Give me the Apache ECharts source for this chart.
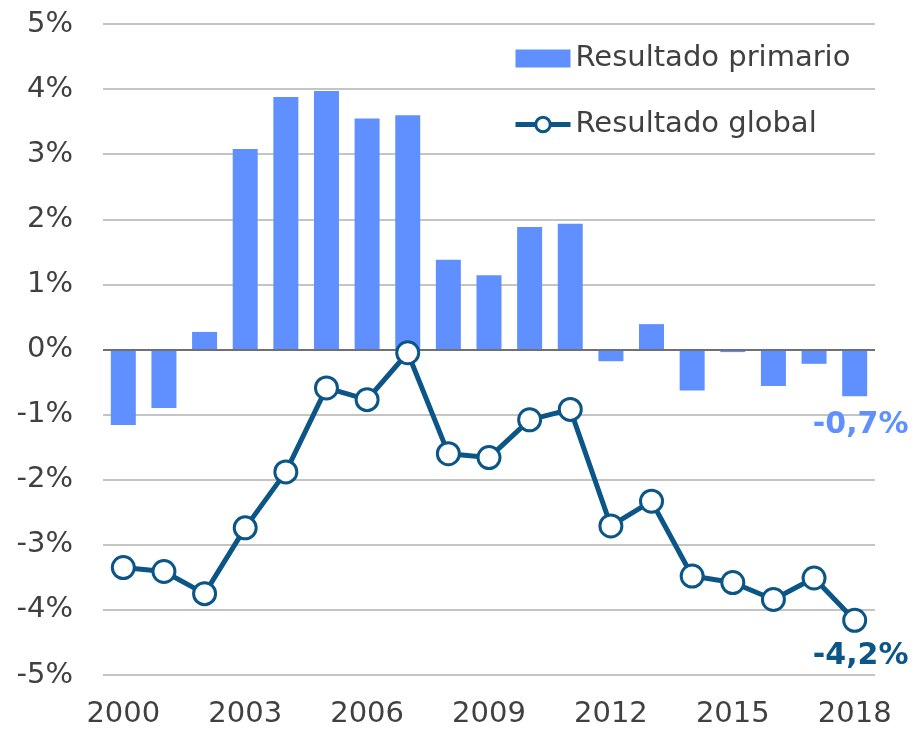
<!DOCTYPE html>
<html>
<head>
<meta charset="utf-8">
<script src="https://cdn.jsdelivr.net/npm/echarts@6/dist/echarts.min.js"></script>
<style>
  html, body { margin: 0; padding: 0; background: #fff; }
  #chart { width: 916px; height: 729px; }
</style>
</head>
<body>
<div id="chart"></div>
<script>
const years = ['2000', '2001', '2002', '2003', '2004', '2005', '2006', '2007', '2008', '2009',
  '2010', '2011', '2012', '2013', '2014', '2015', '2016', '2017', '2018']
const primario = [-1.16, -0.9, 0.27, 3.08, 3.88, 3.97, 3.55, 3.6, 1.38, 1.14,
  1.88, 1.93, -0.18, 0.39, -0.63, -0.04, -0.56, -0.22, -0.72]
const global = [-3.35, -3.41, -3.75, -2.74, -1.88, -0.59, -0.77, -0.05, -1.6, -1.66,
  -1.08, -0.92, -2.71, -2.33, -3.48, -3.58, -3.84, -3.51, -4.16]
const lastPrimarioLabel = '-0,7%'
const lastGlobalLabel = '-4,2%'

const barColor = '#6090FF'
const lineColor = '#0B5686'
const font = 'DejaVu Sans'

const last = years.length - 1

let chart = echarts.init(document.getElementById('chart'))
chart.setOption({
  animation: false,
  textStyle: { fontFamily: font },
  grid: { left: 103, right: 41, top: 24, bottom: 52 },
  legend: {
    orient: 'vertical',
    left: 508,
    top: 39,
    itemWidth: 55,
    itemHeight: 18,
    itemGap: 37,
    textStyle: { fontSize: 29, color: '#404040', fontFamily: font },
    data: [
      { name: 'Resultado primario', icon: 'rect' },
      {
        name: 'Resultado global',
        lineStyle: { width: 5, color: lineColor },
        itemStyle: { color: '#fff', borderColor: lineColor, borderWidth: 3 }
      }
    ]
  },
  xAxis: {
    type: 'category',
    data: years,
    axisLine: { show: false },
    axisTick: { show: false },
    axisLabel: {
      interval: 2,
      fontSize: 29,
      color: '#404040',
      margin: 25
    }
  },
  yAxis: {
    type: 'value',
    min: -5,
    max: 5,
    interval: 1,
    axisLabel: {
      formatter: v => v + '%',
      fontSize: 29,
      color: '#404040',
      margin: 30
    },
    splitLine: { lineStyle: { color: '#C4C4C4', width: 2 } }
  },
  series: [
    {
      name: 'Resultado primario',
      type: 'bar',
      barWidth: 25,
      itemStyle: { color: barColor },
      data: primario.map((v, i) => i === last ? {
        value: v,
        label: {
          show: true,
          position: 'bottom',
          distance: 14,
          offset: [6, 0],
          formatter: lastPrimarioLabel,
          fontSize: 30,
          fontWeight: 'bold',
          color: barColor
        }
      } : v),
      markLine: {
        silent: true,
        symbol: 'none',
        label: { show: false },
        lineStyle: { color: '#707070', width: 2, type: 'solid' },
        data: [{ yAxis: 0 }]
      }
    },
    {
      name: 'Resultado global',
      type: 'line',
      symbol: 'circle',
      symbolSize: 22,
      lineStyle: { color: lineColor, width: 5 },
      itemStyle: { color: '#fff', borderColor: lineColor, borderWidth: 3 },
      z: 5,
      data: global.map((v, i) => i === last ? {
        value: v,
        label: {
          show: true,
          position: 'bottom',
          distance: 8,
          offset: [6, 0],
          formatter: lastGlobalLabel,
          fontSize: 30,
          fontWeight: 'bold',
          color: lineColor
        }
      } : v)
    }
  ]
})
</script>
</body>
</html>
